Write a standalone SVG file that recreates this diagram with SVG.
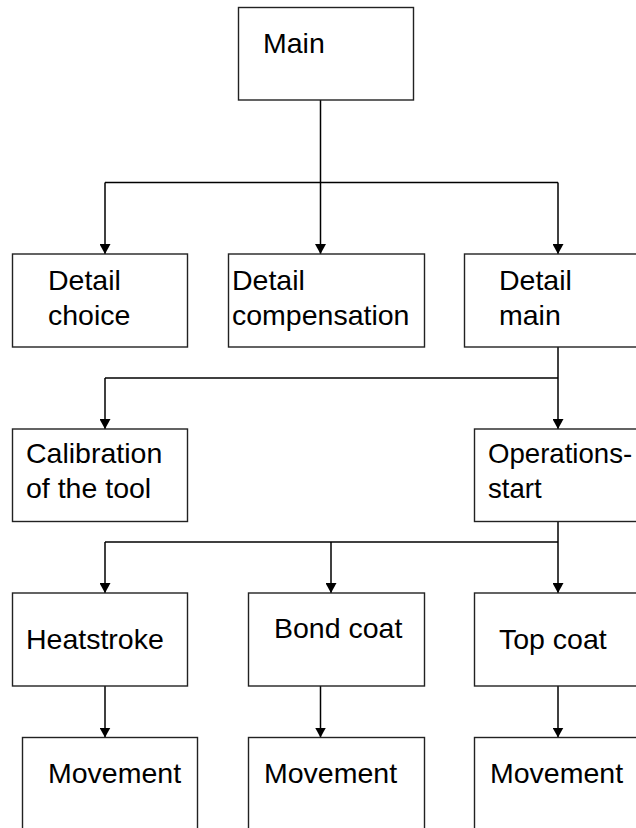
<svg xmlns="http://www.w3.org/2000/svg" width="636" height="828" viewBox="0 0 636 828">
<style>
.box{fill:#fff;stroke:#222;stroke-width:1.4}
.lbl{font-family:"Liberation Sans",Arial,sans-serif;font-size:28.5px;fill:#000}
.sm{font-size:27.6px}
.con{fill:none;stroke:#000;stroke-width:1.5}
</style>
<defs>
<marker id="arr" markerWidth="11" markerHeight="11" refX="10" refY="5.5" orient="auto" markerUnits="userSpaceOnUse">
<path d="M0,0 L10,5.5 L0,11 z" fill="#000"/>
</marker>
</defs>
<rect width="636" height="828" fill="#fff"/>
<g id="connectors" class="con">
<path d="M320.5,100 V254" marker-end="url(#arr)"/>
<path d="M105,182.5 H558"/>
<path d="M105,182.5 V254" marker-end="url(#arr)"/>
<path d="M558,182.5 V254" marker-end="url(#arr)"/>
<path d="M558,347 V429" marker-end="url(#arr)"/>
<path d="M105,378 H558"/>
<path d="M105,378 V429" marker-end="url(#arr)"/>
<path d="M558,521.5 V593" marker-end="url(#arr)"/>
<path d="M105,542 H558"/>
<path d="M105,542 V593" marker-end="url(#arr)"/>
<path d="M331,542 V593" marker-end="url(#arr)"/>
<path d="M105,686 V737.5" marker-end="url(#arr)"/>
<path d="M320.5,686 V737.5" marker-end="url(#arr)"/>
<path d="M558,686 V737.5" marker-end="url(#arr)"/>
</g>
<g id="main"><rect class="box" x="238.5" y="7.5" width="175" height="92.5"/><text class="lbl" x="263" y="53">Main</text></g>
<g id="detail-choice"><rect class="box" x="12.5" y="254" width="175" height="93"/><text class="lbl" x="48" y="290">Detail</text><text class="lbl" x="48" y="325">choice</text></g>
<g id="detail-compensation"><rect class="box" x="228.5" y="254" width="196" height="93"/><text class="lbl" x="232" y="290">Detail</text><text class="lbl" x="232" y="325">compensation</text></g>
<g id="detail-main"><rect class="box" x="464.5" y="254" width="175" height="93"/><text class="lbl" x="499" y="290">Detail</text><text class="lbl" x="499" y="325">main</text></g>
<g id="calibration"><rect class="box" x="12.5" y="429" width="175" height="92.5"/><text class="lbl" x="26" y="463">Calibration</text><text class="lbl" x="26" y="498">of the tool</text></g>
<g id="operations-start"><rect class="box" x="474.5" y="429" width="175" height="92.5"/><text class="lbl sm" x="488" y="463">Operations-</text><text class="lbl sm" x="488" y="498">start</text></g>
<g id="heatstroke"><rect class="box" x="12.5" y="593" width="175" height="93"/><text class="lbl" x="26" y="649">Heatstroke</text></g>
<g id="bond-coat"><rect class="box" x="248.5" y="593" width="176" height="93"/><text class="lbl" x="274" y="638">Bond coat</text></g>
<g id="top-coat"><rect class="box" x="474.5" y="593" width="175" height="93"/><text class="lbl" x="499" y="649">Top coat</text></g>
<g id="movement-1"><rect class="box" x="22.5" y="737.5" width="175" height="93"/><text class="lbl" x="48" y="783">Movement</text></g>
<g id="movement-2"><rect class="box" x="248.5" y="737.5" width="176" height="93"/><text class="lbl" x="264" y="783">Movement</text></g>
<g id="movement-3"><rect class="box" x="474.5" y="737.5" width="175" height="93"/><text class="lbl" x="490" y="783">Movement</text></g>
</svg>
